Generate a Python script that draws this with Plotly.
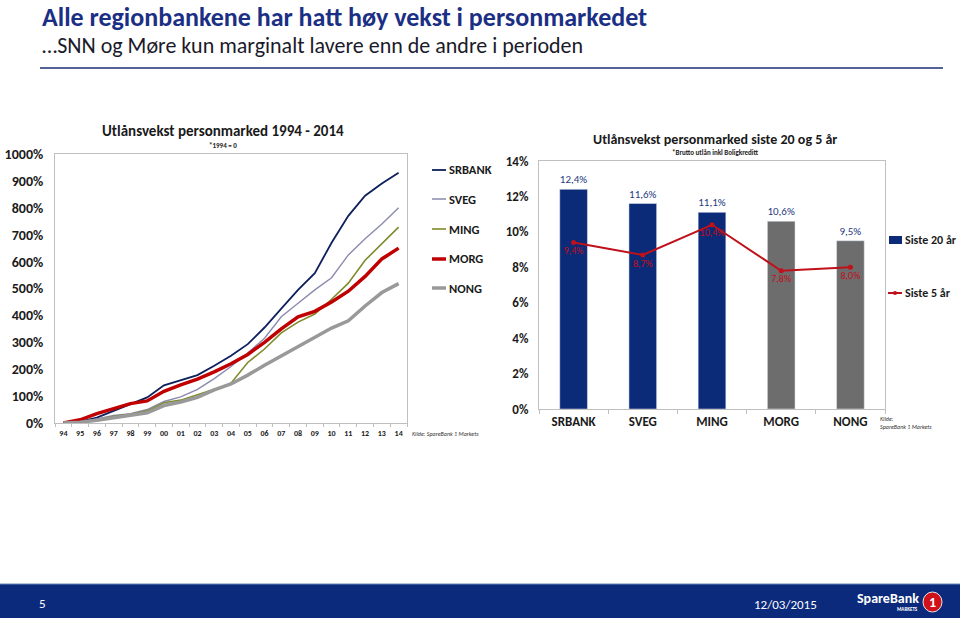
import plotly.graph_objects as go

W, H = 960, 622
def X(px): return px / W
def Y(py): return 1 - py / H

FONT = "Carlito, Lato, sans-serif"
NAVY = "#0b2a78"
TXT = "#1a1a1a"

# ---------------- data ----------------
years = ["94", "95", "96", "97", "98", "99", "00", "01", "02", "03", "04",
         "05", "06", "07", "08", "09", "10", "11", "12", "13", "14"]
srbank = [0, 5, 20, 45, 70, 95, 140, 160, 178, 213, 250, 293, 355, 425, 495, 557, 670, 770, 845, 890, 930]
sveg   = [0, 3, 15, 28, 35, 50, 80, 97, 125, 165, 210, 260, 315, 395, 445, 495, 540, 625, 685, 740, 800]
ming   = [0, 2, 12, 25, 32, 45, 75, 85, 105, 125, 148, 225, 275, 335, 375, 405, 460, 520, 605, 665, 728]
morg   = [0, 12, 35, 55, 72, 82, 118, 142, 163, 190, 220, 255, 300, 350, 395, 415, 450, 490, 545, 610, 650]
nong   = [0, 3, 10, 20, 27, 38, 65, 78, 95, 123, 145, 178, 215, 250, 282, 318, 353, 380, 435, 485, 518]

banks = ["SRBANK", "SVEG", "MING", "MORG", "NONG"]
siste20 = [12.4, 11.6, 11.1, 10.6, 9.5]
siste5 = [9.4, 8.7, 10.4, 7.8, 8.0]

left_ticks = [0, 100, 200, 300, 400, 500, 600, 700, 800, 900, 1000]
right_ticks = [0, 2, 4, 6, 8, 10, 12, 14]

series = [
    ("SRBANK", srbank, "#0d1f5c", 1.8),
    ("SVEG", sveg, "#8a8aae", 1.4),
    ("MING", ming, "#7f8a2a", 1.6),
    ("MORG", morg, "#c00000", 3.5),
    ("NONG", nong, "#999999", 3.5),
]

fig = go.Figure()

for name, vals, col, w in series:
    fig.add_trace(go.Scatter(x=years, y=vals, mode="lines", name=name,
                             line=dict(color=col, width=w), showlegend=False,
                             xaxis="x", yaxis="y"))

bar_colors = [NAVY, NAVY, NAVY, "#6d6d6d", "#6d6d6d"]
fig.add_trace(go.Bar(x=banks, y=siste20, name="Siste 20 år", marker_color=bar_colors,
                     width=0.4, text=[f"{v:.1f}%".replace(".", ",") for v in siste20],
                     textposition="outside", cliponaxis=False,
                     textfont=dict(family=FONT, size=11, color="#1f3a80"),
                     showlegend=False, xaxis="x2", yaxis="y2"))
fig.add_trace(go.Scatter(x=banks, y=siste5, name="Siste 5 år", mode="lines+markers+text",
                         line=dict(color="#c0101a", width=2), marker=dict(size=5, color="#c0101a"),
                         text=[f"{v:.1f}%".replace(".", ",") for v in siste5],
                         textposition="bottom center", cliponaxis=False,
                         textfont=dict(family=FONT, size=10, color="#c0101a"),
                         showlegend=False, xaxis="x2", yaxis="y2"))

axis_common = dict(showline=True, mirror=True, linecolor="#bfbfbf", linewidth=1,
                   showgrid=False, zeroline=False, automargin=False)

fig.update_layout(
    width=W, height=H, autosize=False,
    margin=dict(l=0, r=0, t=0, b=0, pad=0, autoexpand=False),
    paper_bgcolor="white", plot_bgcolor="white",
    font=dict(family=FONT, color=TXT),
    bargap=0.6,
    xaxis=dict(domain=[X(55), X(407)], type="category", range=[-0.5, 20.5],
               anchor="y", ticks="outside", ticklen=3, tickcolor="#bfbfbf", tickson="boundaries",
               tickangle=0, ticklabelstandoff=2,
               tickfont=dict(family=FONT, size=8, color=TXT, weight="bold"), **axis_common),
    yaxis=dict(domain=[Y(423), Y(154)], range=[0, 1000], anchor="x",
               tickvals=left_ticks, ticktext=[f"{v}%" for v in left_ticks],
               ticks="", ticklabelstandoff=8,
               tickfont=dict(family=FONT, size=14, color=TXT, weight="bold"),
               **axis_common),
    xaxis2=dict(domain=[X(539), X(885)], type="category", range=[-0.5, 4.5],
                anchor="y2", ticks="outside", ticklen=4, tickcolor="#bfbfbf", tickson="boundaries",
                tickangle=0,
                tickfont=dict(family=FONT, size=13, color=TXT, weight="bold"), **axis_common),
    yaxis2=dict(domain=[Y(409), Y(161)], range=[0, 14], anchor="x2",
                tickvals=right_ticks, ticktext=[f"{v}%" for v in right_ticks],
                ticks="", ticklabelstandoff=7,
                tickfont=dict(family=FONT, size=13, color=TXT, weight="bold"),
                **axis_common),
)

shapes = []
ann = []

# header
ann.append(dict(x=X(40), y=Y(17), xref="paper", yref="paper", xanchor="left", yanchor="middle",
                text="<b>Alle regionbankene har hatt høy vekst i personmarkedet</b>", showarrow=False,
                font=dict(family=FONT, size=26, color="#1b2f85")))
ann.append(dict(x=X(40), y=Y(45), xref="paper", yref="paper", xanchor="left", yanchor="middle",
                text="…SNN og Møre kun marginalt lavere enn de andre i perioden", showarrow=False,
                font=dict(family=FONT, size=22, color="#1a1a2a")))
shapes.append(dict(type="line", xref="paper", yref="paper", x0=X(40), x1=X(943), y0=Y(68), y1=Y(68),
                   line=dict(color="#1b2f75", width=1.5)))

# chart titles
ann.append(dict(x=X(223), y=Y(131), xref="paper", yref="paper", xanchor="center", yanchor="middle",
                text="<b>Utlånsvekst personmarked 1994 - 2014</b>", showarrow=False,
                font=dict(family=FONT, size=15, color=TXT)))
ann.append(dict(x=X(223), y=Y(145), xref="paper", yref="paper", xanchor="center", yanchor="middle",
                text="<b>*1994 = 0</b>", showarrow=False, font=dict(family=FONT, size=7, color=TXT)))
ann.append(dict(x=X(715), y=Y(139), xref="paper", yref="paper", xanchor="center", yanchor="middle",
                text="<b>Utlånsvekst personmarked siste 20 og 5 år</b>", showarrow=False,
                font=dict(family=FONT, size=14, color=TXT)))
ann.append(dict(x=X(715), y=Y(152), xref="paper", yref="paper", xanchor="center", yanchor="middle",
                text="<b>*Brutto utlån inkl Boligkreditt</b>", showarrow=False,
                font=dict(family=FONT, size=7, color=TXT)))

# left legend
leg_y = [170, 199, 229, 259, 288]
for (name, vals, col, w), ly in zip(series, leg_y):
    shapes.append(dict(type="line", xref="paper", yref="paper", x0=X(432), x1=X(446), y0=Y(ly), y1=Y(ly),
                       line=dict(color=col, width=max(w, 1.5))))
    ann.append(dict(x=X(447), y=Y(ly), xref="paper", yref="paper", xanchor="left", yanchor="middle",
                    text=f"<b>{name}</b>", showarrow=False, font=dict(family=FONT, size=12.5, color=TXT)))

ann.append(dict(x=X(410), y=Y(434), xref="paper", yref="paper", xanchor="left", yanchor="middle",
                text="<i>Kilde: SpareBank 1 Markets</i>", showarrow=False,
                font=dict(family=FONT, size=6, color="#333333")))

# right legend
shapes.append(dict(type="rect", xref="paper", yref="paper", x0=X(889), x1=X(902), y0=Y(244), y1=Y(236),
                   fillcolor=NAVY, line=dict(width=0)))
ann.append(dict(x=X(903), y=Y(240), xref="paper", yref="paper", xanchor="left", yanchor="middle",
                text="<b>Siste 20 år</b>", showarrow=False, font=dict(family=FONT, size=12, color=TXT)))
shapes.append(dict(type="line", xref="paper", yref="paper", x0=X(888), x1=X(902), y0=Y(293), y1=Y(293),
                   line=dict(color="#c0101a", width=2)))
shapes.append(dict(type="circle", xref="paper", yref="paper", x0=X(893), x1=X(897), y0=Y(295), y1=Y(291),
                   fillcolor="#c0101a", line=dict(width=0)))
ann.append(dict(x=X(903), y=Y(293), xref="paper", yref="paper", xanchor="left", yanchor="middle",
                text="<b>Siste 5 år</b>", showarrow=False, font=dict(family=FONT, size=12, color=TXT)))
ann.append(dict(x=X(878), y=Y(423), xref="paper", yref="paper", xanchor="left", yanchor="middle",
                text="<i>Kilde:<br>SpareBank 1 Markets</i>", showarrow=False, align="left",
                font=dict(family=FONT, size=6, color="#333333")))

# footer
shapes.append(dict(type="rect", xref="paper", yref="paper", x0=0, x1=1, y0=Y(618), y1=Y(584),
                   fillcolor="#0b2a7c", line=dict(width=0), layer="below"))
shapes.append(dict(type="line", xref="paper", yref="paper", x0=0, x1=1, y0=Y(584), y1=Y(584),
                   line=dict(color="#6a86c0", width=1)))
ann.append(dict(x=X(37), y=Y(603), xref="paper", yref="paper", xanchor="left", yanchor="middle",
                text="5", showarrow=False, font=dict(family=FONT, size=13, color="white")))
ann.append(dict(x=X(752), y=Y(604), xref="paper", yref="paper", xanchor="left", yanchor="middle",
                text="12/03/2015", showarrow=False, font=dict(family=FONT, size=13, color="white")))
ann.append(dict(x=X(921), y=Y(598), xref="paper", yref="paper", xanchor="right", yanchor="middle",
                text="<b>SpareBank</b>", showarrow=False, font=dict(family=FONT, size=14, color="white")))
ann.append(dict(x=X(920), y=Y(609), xref="paper", yref="paper", xanchor="right", yanchor="middle",
                text="<b>MARKETS</b>", showarrow=False, font=dict(family=FONT, size=5, color="white")))
shapes.append(dict(type="circle", xref="paper", yref="paper", x0=X(923), x1=X(942), y0=Y(612), y1=Y(592),
                   fillcolor="#d0111b", line=dict(color="#e8e8e8", width=1)))
ann.append(dict(x=X(932.5), y=Y(602), xref="paper", yref="paper", xanchor="center", yanchor="middle",
                text="<b>1</b>", showarrow=False, font=dict(family=FONT, size=14, color="white")))

fig.update_layout(shapes=shapes, annotations=ann)

fig.write_html("out.html", config={"displayModeBar": False},
               post_script="document.body.style.margin='0';document.body.style.overflow='hidden';")
